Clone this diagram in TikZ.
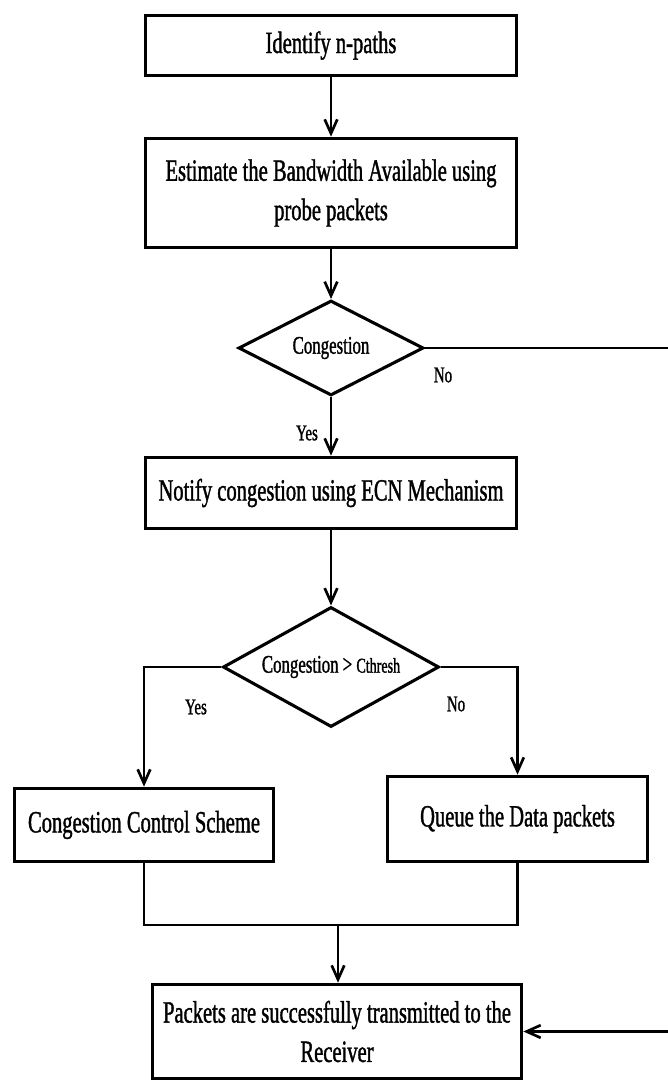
\documentclass[tikz,border=0pt]{standalone}
\usepackage{fontspec}
\setmainfont{Liberation Serif}[FakeStretch=0.665, FakeBold=1.2]
\usetikzlibrary{shapes.geometric, arrows.meta}

\tikzset{
  procbox/.style={draw, line width=2.6pt, align=center, inner sep=0pt, font=\fontsize{22}{28}\selectfont},
  decision/.style={draw, diamond, line width=2.2pt, inner sep=0pt, aspect=1.9, font=\fontsize{18}{21}\selectfont},
  flow/.style={line width=1.9pt},
  lbl/.style={font=\fontsize{16}{19}\selectfont},
  >={Straight Barb[length=10pt,width=9pt]}
}

\begin{document}
\begin{tikzpicture}[x=0.025cm, y=-0.025cm]
  \useasboundingbox (0,0) rectangle (668,1082);

  % Main column of steps
  \node[procbox, minimum width=9.275cm, minimum height=1.5cm] (paths) at (331,45.5) {Identify n-paths};
  \node[procbox, minimum width=9.275cm, minimum height=2.725cm] (estimate) at (331,193) {Estimate the Bandwidth Available using\\probe packets};
  \node[decision, minimum width=4.625cm, minimum height=2.375cm] (cong) at (331,348) {Congestion};
  \node[procbox, minimum width=9.275cm, minimum height=1.775cm] (notify) at (331,493) {Notify congestion using ECN Mechanism};
  \node[decision, minimum width=5.4cm, minimum height=3.0cm] (thresh) at (331,667) {Congestion > {\fontsize{15}{17}\selectfont Cthresh}};

  % Two branches
  \node[procbox, minimum width=6.475cm, minimum height=1.825cm] (control) at (144,825) {Congestion Control Scheme};
  \node[procbox, minimum width=6.5cm, minimum height=2.125cm] (queue) at (517.5,819) {Queue the Data packets};

  % Final step
  \node[procbox, minimum width=9.225cm, minimum height=2.35cm] (sent) at (337,1031.5) {Packets are successfully transmitted to the\\Receiver};

  % Helper points
  \coordinate (rim) at (672,0);
  \coordinate (merge) at (338,925);

  % Connectors
  \draw[flow, ->] (paths) -- (estimate);
  \draw[flow, ->] (estimate) -- (cong);
  \draw[flow, ->] (cong) -- (notify);
  \draw[flow, ->] (notify) -- (thresh);
  \draw[flow, ->] (cong.east) -- (cong.east -| rim) |- (sent.east);
  \draw[flow, ->] (thresh.west) -| (control.north);
  \draw[flow, ->] (thresh.east) -| (queue.north);
  \draw[flow] (control.south) |- (merge) -| (queue.south);
  \draw[flow, ->] (merge) -- (merge |- sent.north);

  % Branch labels
  \node[lbl] (no1) at (443,375) {No};
  \node[lbl] (yes1) at (307,433) {Yes};
  \node[lbl] (yes2) at (196,707) {Yes};
  \node[lbl] (no2) at (456,704) {No};
\end{tikzpicture}
\end{document}
